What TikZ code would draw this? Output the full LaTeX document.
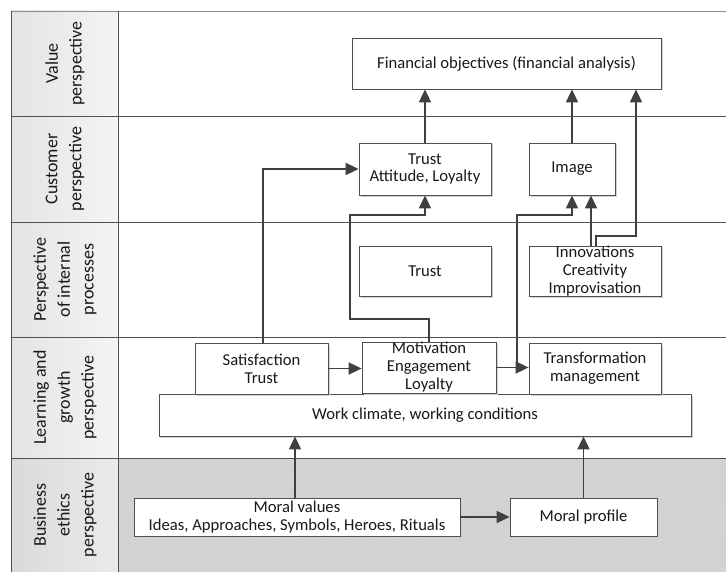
\documentclass[tikz,border=0pt]{standalone}
\usepackage{fontspec}
\setmainfont{Carlito}
\usetikzlibrary{arrows.meta,patterns,shadows}
\definecolor{linec}{HTML}{404040}
\definecolor{boxc}{HTML}{505050}
\definecolor{gridc}{HTML}{505050}
\definecolor{hatchbg}{HTML}{D0D0D0}
\definecolor{hatchln}{HTML}{DCDCDC}
\definecolor{headl}{HTML}{E4E4E4}
\definecolor{headr}{HTML}{F4F4F4}
\definecolor{headbl}{HTML}{DADADA}
\definecolor{headbr}{HTML}{EAEAEA}
\tikzset{
  box/.style={draw=boxc, fill=white, line width=0.8bp, inner sep=0pt, align=center,
    font=\fontsize{16.7}{18}\selectfont\frenchspacing, text=black!90,
    drop shadow={shadow xshift=1.5bp, shadow yshift=-1.5bp, fill=black!18, opacity=1}},
  conn/.style={draw=linec, line width=1.8bp, -{Triangle[length=13bp,width=12bp]}},
  head/.style={rotate=90, align=center, font=\fontsize{18}{24}\selectfont, text=black!90},
  grid/.style={draw=gridc, line width=0.9bp}
}
\begin{document}
\begin{tikzpicture}[x=1bp,y=-1bp]
\useasboundingbox (0,0) rectangle (726,572);
% backgrounds
\fill[white] (0,0) rectangle (726,572);
\fill[hatchbg] (118,458) rectangle (726,572);
\fill[pattern=north east lines, pattern color=hatchln] (118,458) rectangle (726,572);
\shade[left color=headl, right color=headr] (11,11) rectangle (118,458);
\shade[left color=headbl, right color=headbr] (11,458) rectangle (118,572);
% grid
\draw[draw=black!45, line width=0.9bp] (11,11) -- (726,11);
\draw[grid] (11,116) -- (726,116);
\draw[grid] (11,222) -- (726,222);
\draw[grid] (11,337) -- (726,337);
\draw[grid] (11,458) -- (726,458);
\draw[grid] (11,11) -- (11,572);
\draw[grid] (118,11) -- (118,572);
% headers
\node[head] (h1) at (65,63.5) {Value\\perspective};
\node[head] (h2) at (65,169) {Customer\\perspective};
\node[head] (h3) at (65,279.5) {Perspective\\of internal\\processes};
\node[head] (h4) at (65,397.5) {Learning and\\growth\\perspective};
\node[head] (h5) at (65,515) {Business\\ethics\\perspective};
% boxes
\node[box, minimum width=309bp, minimum height=51bp] (fin) at (506.5,63.5) {Financial objectives (financial analysis)};
\node[box, minimum width=132bp, minimum height=52bp] (trust1) at (425,169) {Trust\\Attitude, Loyalty};
\node[box, minimum width=86bp, minimum height=52bp] (image) at (572,169) {Image};
\node[box, minimum width=132bp, minimum height=50bp] (trust2) at (425,271) {Trust};
\node[box, minimum width=132bp, minimum height=50bp] (innov) at (595,271) {Innovations\\Creativity\\Improvisation};
\node[box, minimum width=532bp, minimum height=42bp] (work) at (425,415) {Work climate, working conditions};
\node[box, minimum width=133bp, minimum height=51bp] (satis) at (261.5,368.5) {Satisfaction\\Trust};
\node[box, minimum width=134bp, minimum height=51bp] (motiv) at (429,367.5) {Motivation\\Engagement\\Loyalty};
\node[box, minimum width=132bp, minimum height=51bp] (transf) at (595,368.5) {Transformation\\management};
\node[box, minimum width=326bp, minimum height=38bp] (moral) at (297,517) {Moral values\\Ideas, Approaches, Symbols, Heroes, Rituals};
\node[box, minimum width=147bp, minimum height=38bp] (profile) at (583.5,517) {Moral profile};
% helper coordinates
\coordinate (c1) at (636,236);
\coordinate (c2) at (350,319);
\coordinate (c3) at (350,215);
\coordinate (c4) at (425,215);
\coordinate (b1) at (517,368);
\coordinate (b2) at (517,215);
\coordinate (b3) at (572,215);
% connectors
\draw[conn] (trust1.north) -- (trust1.north |- fin.south);
\draw[conn] (image.north) -- (image.north |- fin.south);
\draw[conn] ([xshift=1bp]innov.north) |- (c1) -- (c1 |- fin.south);
\draw[conn] ([xshift=-4bp]innov.north) -- ([xshift=-4bp]innov.north |- image.south);
\draw[conn] ([xshift=1.5bp]satis.north) |- (trust1.west);
\draw[conn] (motiv.north) |- (c2) -- (c3) -- (c4) -- (trust1.south);
\draw[conn] (satis.east) -- (satis.east -| motiv.west);
\draw[conn] (motiv.east) -- (motiv.east -| transf.west);
\draw[conn] (b1) -- (b2) -- (b3) -- (image.south);
\draw[conn] ([xshift=-2bp]moral.north) -- ([xshift=-2bp]moral.north |- work.south);
\draw[conn] (moral.east) -- (profile.west);
\draw[conn] (profile.north) -- (profile.north |- work.south);
\end{tikzpicture}
\end{document}
